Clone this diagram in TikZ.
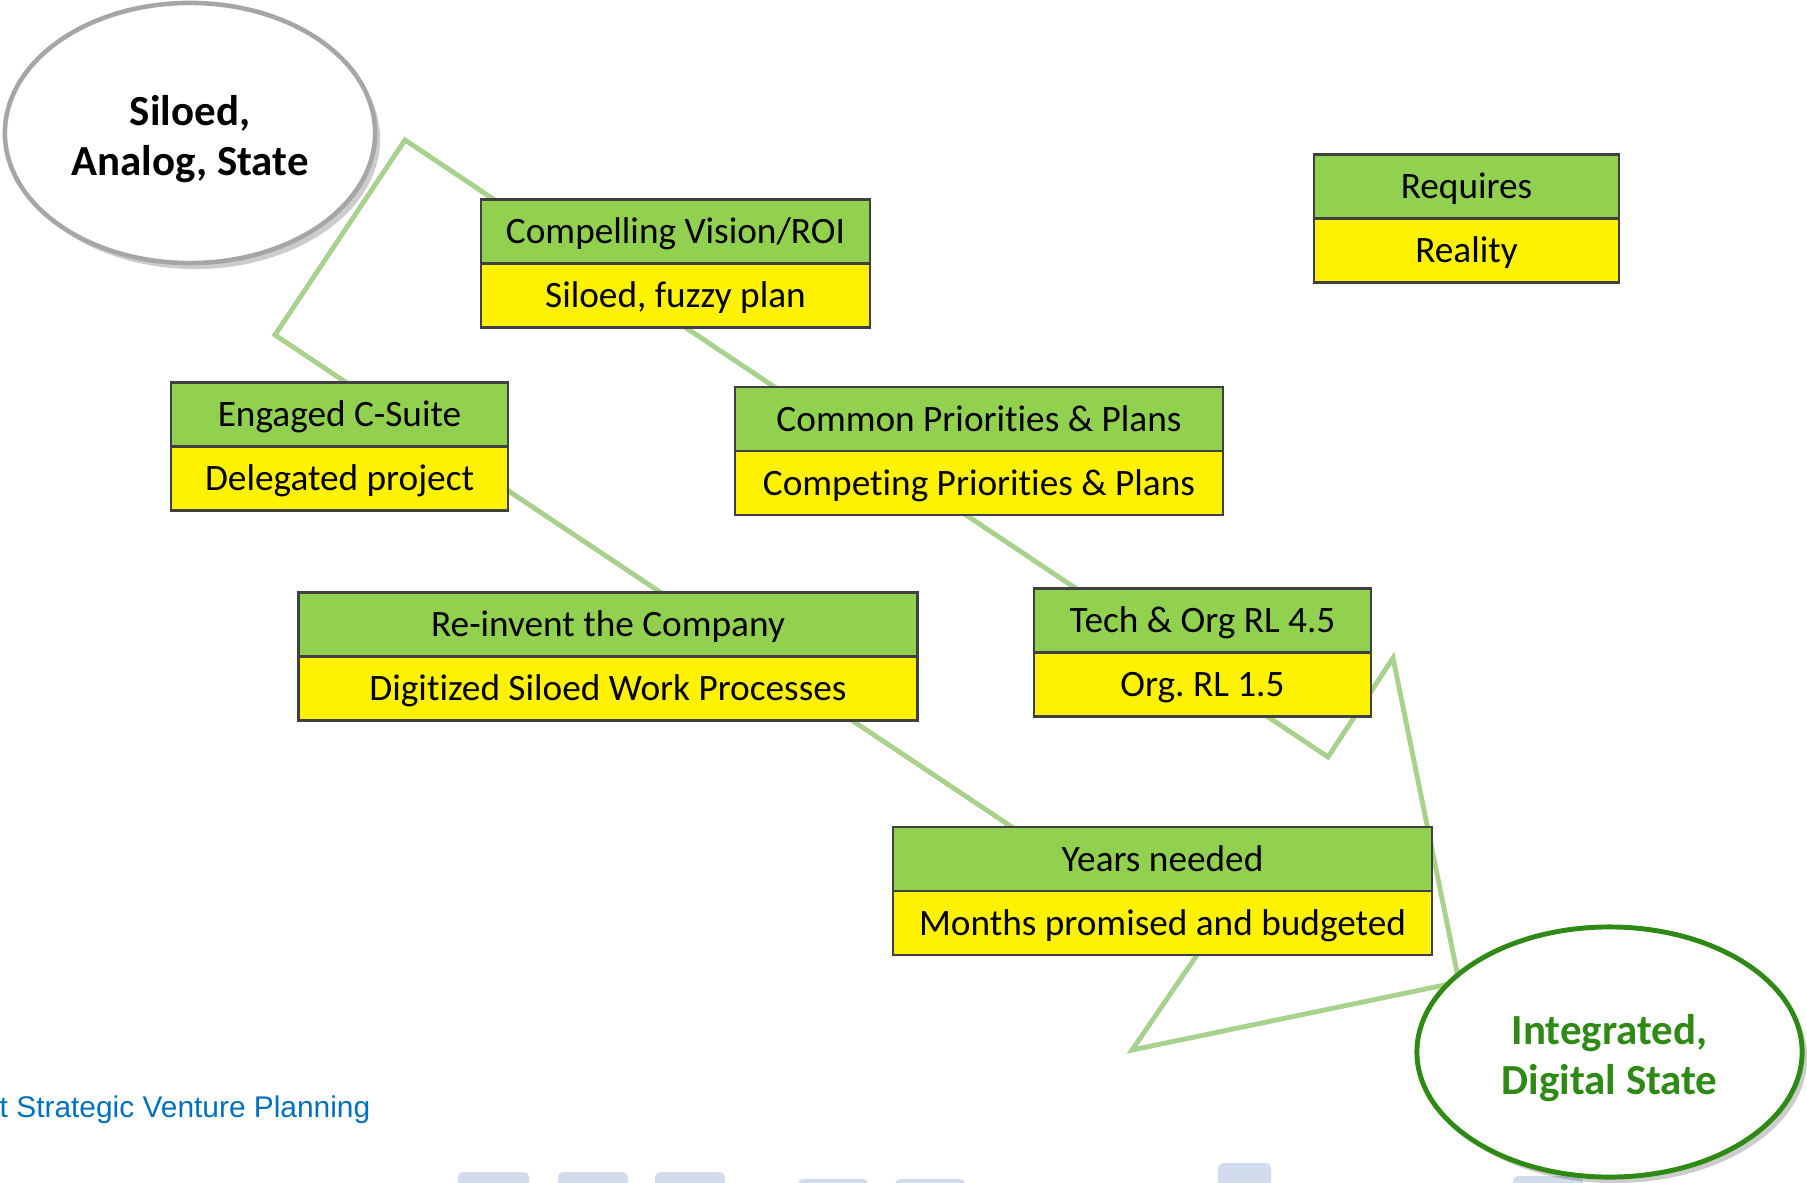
\documentclass[tikz,border=0pt]{standalone}
\usepackage{fontspec}
\setmainfont{Carlito}[Ligatures=NoCommon]
\newfontfamily\arialfont{Liberation Sans}
\usetikzlibrary{positioning,shapes.geometric,shadows}
\frenchspacing

\definecolor{hdrgreen}{HTML}{92D050}
\definecolor{pathgreen}{HTML}{A9D18E}
\definecolor{stategreen}{RGB}{47,137,21}
\definecolor{stategray}{HTML}{A6A6A6}
\definecolor{footblue}{HTML}{0070C0}
\definecolor{barblue}{HTML}{D1DDEE}

\begin{document}
\begin{tikzpicture}[x=0.01cm, y=-0.01cm,
    ideal/.style={draw=black!75, line width=0.7pt, fill=hdrgreen, minimum height=0.64cm,
        inner sep=0pt, outer sep=0pt, text height=6.85pt, text depth=0pt,
        font=\fontsize{10.6}{12.5}\selectfont},
    actual/.style={ideal, fill=yellow},
    blob/.style={ellipse, fill=white, inner sep=0pt,
        drop shadow={shadow xshift=0.05cm, shadow yshift=-0.06cm, fill=black, opacity=0.2}},
    blobtext/.style={align=center, inner sep=0pt, yshift=-0.06cm,
        font=\fontsize{12.2}{14.2}\selectfont\bfseries},
    bar/.style={fill=barblue, rounded corners=0.05cm}]
    \useasboundingbox (0, 0) rectangle (1807, 1182);

    %Bars
    \fill[bar] (458, 1172) rectangle (529, 1200);
    \fill[bar] (558, 1172) rectangle (628, 1200);
    \fill[bar] (655, 1172) rectangle (725, 1200);
    \fill[bar] (798, 1179) rectangle (868, 1200);
    \fill[bar] (895, 1179) rectangle (965, 1200);
    \fill[bar] (1218, 1163) rectangle (1271, 1200);
    \fill[bar] (1513, 1176) rectangle (1583, 1200);

    %Path
    \coordinate (peak) at (405, 140);
    \coordinate (r1) at (1328, 757);
    \coordinate (r2) at (1393, 658);
    \coordinate (tip) at (1459, 982);
    \coordinate (l3) at (1132, 1050);
    \coordinate (l2) at (1199, 952);
    \coordinate (l1) at (275, 335);
    \draw[pathgreen, line width=1.4pt] (peak) -- (r1) -- (r2) -- (tip) -- (l3) -- (l2) -- (l1) -- cycle;

    %Nodes
    \node[ideal, minimum width=3.05cm] at (1466.5, 186.5) (req) {Requires};
    \node[actual, minimum width=3.05cm, below=0pt of req] (reqR) {Reality};

    \node[ideal, minimum width=3.89cm] at (675.5, 231.5) (vision) {Compelling Vision/ROI};
    \node[actual, minimum width=3.89cm, below=0pt of vision] (visionR) {Siloed, fuzzy plan};

    \node[ideal, minimum width=3.37cm] at (339.5, 414.5) (csuite) {Engaged C-Suite};
    \node[actual, minimum width=3.37cm, below=0pt of csuite] (csuiteR) {Delegated project};

    \node[ideal, minimum width=4.88cm] at (979, 419) (prio) {Common Priorities \& Plans};
    \node[actual, minimum width=4.88cm, below=0pt of prio] (prioR) {Competing Priorities \& Plans};

    \node[ideal, minimum width=6.19cm] at (608, 624.5) (reinv) {Re-invent the Company};
    \node[actual, minimum width=6.19cm, below=0pt of reinv] (reinvR) {Digitized Siloed Work Processes};

    \node[ideal, minimum width=3.37cm] at (1202.5, 620.5) (tech) {Tech \& Org RL 4.5};
    \node[actual, minimum width=3.37cm, below=0pt of tech] (techR) {Org. RL 1.5};

    \node[ideal, minimum width=5.39cm] at (1162.5, 859) (years) {Years needed};
    \node[actual, minimum width=5.39cm, below=0pt of years] (yearsR) {Months promised and budgeted};

    %States
    \node[blob, draw=stategray, line width=1.3pt, minimum width=3.7cm, minimum height=2.6cm,
        label={[blobtext]center:Siloed,\\Analog, State}] at (190, 133) (start) {};
    \node[blob, draw=stategreen, line width=1.4pt, minimum width=3.85cm, minimum height=2.5cm,
        label={[blobtext, text=stategreen]center:Integrated,\\Digital State}] at (1609.5, 1052) (goal) {};

    %Footer
    \node[anchor=base east, inner sep=0pt, text=footblue, font=\arialfont\fontsize{8.5}{10}\selectfont]
        at (371, 1117) (foot) {nt Strategic Venture Planning};
\end{tikzpicture}
\end{document}
